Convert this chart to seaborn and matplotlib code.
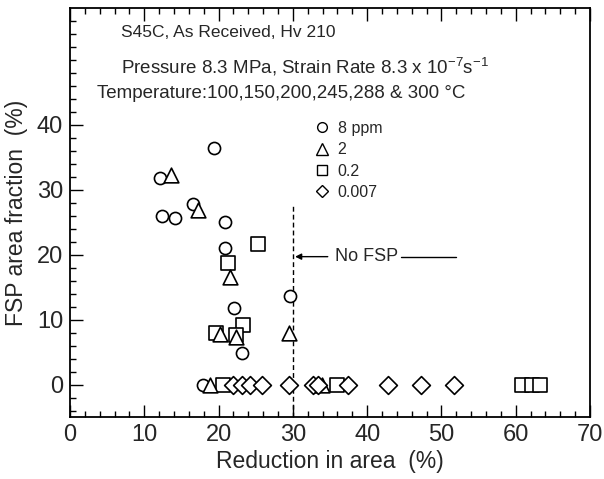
import numpy as np
import pandas as pd
import matplotlib
matplotlib.use("Agg")
import matplotlib.pyplot as plt
from matplotlib.ticker import MultipleLocator, FixedLocator
from matplotlib.lines import Line2D
import seaborn as sns

# Reduction in area (%) and FSP area fraction (%) for each hydrogen concentration
circle_x = [12.1, 12.4, 14.1, 16.5, 19.4, 20.8, 20.8, 22.1, 23.2, 29.6, 17.9]
circle_y = [31.8, 26.0, 25.6, 27.8, 36.5, 25.1, 21.0, 11.8, 4.8, 13.7, 0.0]

square_x = [25.3, 21.3, 23.3, 19.7, 22.3, 20.6, 35.9, 60.9, 62.2, 63.3]
square_y = [21.6, 18.7, 9.2, 7.9, 7.7, 0.0, 0.0, 0.0, 0.0, 0.0]

triangle_x = [13.6, 17.2, 21.6, 20.2, 22.4, 29.5, 18.8, 33.9]
triangle_y = [32.3, 26.9, 16.5, 7.8, 7.3, 8.0, 0.0, 0.0]

diamond_x = [21.9, 23.1, 24.2, 25.8, 29.5, 32.7, 33.4, 37.4, 42.8, 47.2, 51.7]
diamond_y = [0.0, 0.0, 0.0, 0.0, 0.0, 0.0, 0.0, 0.0, 0.0, 0.0, 0.0]

concentrations = ["8 ppm", "2", "0.2", "0.007"]
no_fsp_limit = 30.0
no_fsp_top = 27.7

sns.set_theme(style="ticks")
plt.rcParams["font.family"] = ["Liberation Sans", "DejaVu Sans"]
plt.rcParams["mathtext.fontset"] = "custom"
plt.rcParams["mathtext.rm"] = "Liberation Sans"
plt.rcParams["mathtext.it"] = "Liberation Sans:italic"

fig = plt.figure(figsize=(6.04, 4.79), dpi=100)
ax = fig.add_axes([0.1159, 0.1294, 0.8609, 0.8539])

series = [
    ("8 ppm", circle_x, circle_y, "o", 76),
    ("0.2", square_x, square_y, "s", 88),
    ("2", triangle_x, triangle_y, "^", 112),
    ("0.007", diamond_x, diamond_y, "D", 82),
]
for name, xs, ys, mk, size in series:
    df = pd.DataFrame({"ra": xs, "fsp": ys})
    sns.scatterplot(data=df, x="ra", y="fsp", marker=mk, s=size,
                    facecolor="white", edgecolor="black", linewidth=1.2,
                    ax=ax, zorder=3, legend=False)

# boundary between fracture with and without flat-surface patterns
ax.vlines(no_fsp_limit, -5, no_fsp_top, colors="black", linewidth=1.0,
          linestyles=(0, (3.5, 2.2)), zorder=2)
ax.annotate("No FSP", xy=(no_fsp_limit + 0.3, 19.7), xytext=(35.7, 19.7),
            fontsize=13, ha="left", va="center",
            arrowprops=dict(arrowstyle="-|>", color="black", lw=1.0,
                            mutation_scale=9, shrinkA=3, shrinkB=0))
ax.plot([44.6, 52.0], [19.7, 19.7], color="black", lw=1.0)

# test conditions
ax.text(6.9, 54.2, "S45C, As Received, Hv 210", fontsize=12.5,
        ha="left", va="center")
ax.text(6.9, 48.9,
        r"Pressure 8.3 MPa, Strain Rate 8.3 x 10$^{-7}$s$^{-1}$",
        fontsize=13.5, ha="left", va="center")
ax.text(3.6, 44.9, "Temperature:100,150,200,245,288 & 300 \u00b0C",
        fontsize=13.5, ha="left", va="center")

handles = [
    Line2D([], [], linestyle="none", marker="o", markersize=7,
           markerfacecolor="white", markeredgecolor="black", markeredgewidth=1.0),
    Line2D([], [], linestyle="none", marker="^", markersize=8,
           markerfacecolor="white", markeredgecolor="black", markeredgewidth=1.0),
    Line2D([], [], linestyle="none", marker="s", markersize=7,
           markerfacecolor="white", markeredgecolor="black", markeredgewidth=1.0),
    Line2D([], [], linestyle="none", marker="D", markersize=6.5,
           markerfacecolor="white", markeredgecolor="black", markeredgewidth=1.0),
]
ax.legend(handles, concentrations, loc="upper left",
          bbox_to_anchor=(0.473, 0.724), frameon=False, fontsize=11.5,
          handlelength=0.8, handletextpad=0.55, labelspacing=0.4,
          borderpad=0, borderaxespad=0)

ax.set_xlim(0, 70)
ax.set_ylim(-5, 58)
ax.xaxis.set_major_locator(MultipleLocator(10))
ax.xaxis.set_minor_locator(MultipleLocator(2))
ax.yaxis.set_major_locator(FixedLocator([0, 10, 20, 30, 40]))
ax.yaxis.set_minor_locator(FixedLocator(list(range(-4, 58, 2))))
ax.tick_params(which="both", direction="in", top=True, right=False,
               width=1.0, color="black", labelsize=17, pad=5)
ax.tick_params(which="major", length=9)
ax.tick_params(which="minor", length=4.5)

ax.set_xlabel("Reduction in area  (%)", fontsize=16.5, labelpad=3)
ax.set_ylabel("FSP area fraction  (%)", fontsize=16.5, labelpad=6)

for side in ["left", "bottom", "top", "right"]:
    ax.spines[side].set_visible(True)
    ax.spines[side].set_color("black")
    ax.spines[side].set_linewidth(1.3)
ax.set_facecolor("white")
fig.patch.set_facecolor("white")

fig.savefig("out.png", dpi=100, facecolor="white")
